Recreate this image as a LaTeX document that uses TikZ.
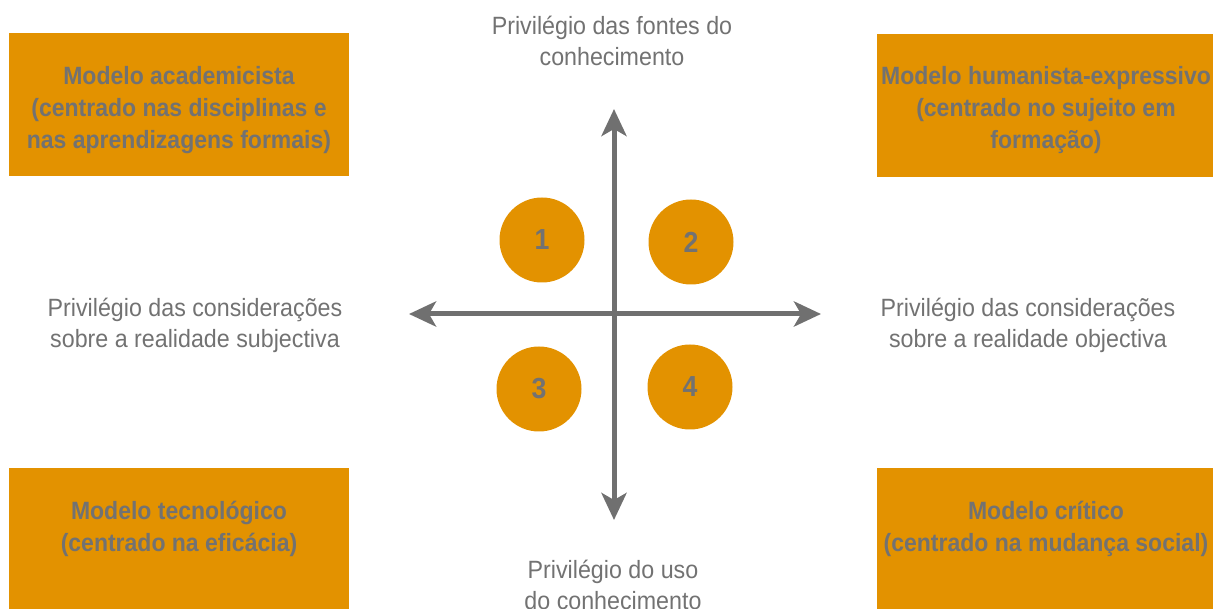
\documentclass[tikz,border=0pt]{standalone}
\usepackage{fontspec}
\setmainfont{Liberation Sans}[FakeStretch=0.93]
\newfontfamily\boxfont{Liberation Sans}[FakeStretch=0.92]
\usetikzlibrary{arrows.meta}
\definecolor{orng}{HTML}{E39200}
\definecolor{txtgray}{HTML}{727272}
\definecolor{axgray}{HTML}{707070}
\tikzset{
  quadbox/.style={fill=orng, draw=none, inner sep=0pt, anchor=north west},
  boxtext/.style={text=txtgray, font=\boxfont\fontsize{25}{32}\selectfont\bfseries, align=center, inner sep=0pt},
  axislabel/.style={text=txtgray, font=\fontsize{25}{31}\selectfont, align=center, inner sep=0pt},
  numcircle/.style={circle, fill=orng, minimum size=85pt, inner sep=0pt, text=txtgray, font=\boxfont\fontsize{29}{30}\selectfont\bfseries},
  axis/.style={draw=axgray, line width=5pt, -{Stealth[length=27pt,width=25pt,inset=7pt]}}
}
\begin{document}
\begin{tikzpicture}[x=1pt,y=-1pt]
\useasboundingbox (0,0) rectangle (1213,609);
% boxes
\node[quadbox, minimum width=340pt, minimum height=143pt] (b1) at (9,33) {};
\node[quadbox, minimum width=336pt, minimum height=143pt] (b2) at (877,34) {};
\node[quadbox, minimum width=340pt, minimum height=141pt] (b3) at (9,468) {};
\node[quadbox, minimum width=336pt, minimum height=141pt] (b4) at (877,468) {};
\node[boxtext] (t1) at (179,110) {Modelo academicista\\(centrado nas disciplinas e\\nas aprendizagens formais)};
\node[boxtext] (t2) at (1046,110) {Modelo humanista-expressivo\\(centrado no sujeito em\\formação)};
\node[boxtext] (t3) at (179,529) {Modelo tecnológico\\(centrado na eficácia)};
\node[boxtext] (t4) at (1046,529) {Modelo crítico\\(centrado na mudança social)};
% axes
\coordinate (c) at (614,314);
\coordinate (top) at (614,109);
\coordinate (bot) at (614,520);
\coordinate (lft) at (409,314);
\coordinate (rgt) at (821,314);
\draw[axis] (c) -- (top);
\draw[axis] (c) -- (bot);
\draw[axis] (c) -- (lft);
\draw[axis] (c) -- (rgt);
% circles
\node[numcircle] (n1) at (542,240) {1};
\node[numcircle] (n2) at (691,242) {2};
\node[numcircle] (n3) at (539,389) {3};
\node[numcircle] (n4) at (690,387) {4};
% labels
\node[axislabel] (lt) at (612,41) {Privilégio das fontes do\\conhecimento};
\node[axislabel] (ll) at (195,325) {Privilégio das considerações\\sobre a realidade subjectiva};
\node[axislabel] (lr) at (1028,325) {Privilégio das considerações\\sobre a realidade objectiva};
\node[axislabel] (lb) at (613,585) {Privilégio do uso\\do conhecimento};
\end{tikzpicture}
\end{document}
